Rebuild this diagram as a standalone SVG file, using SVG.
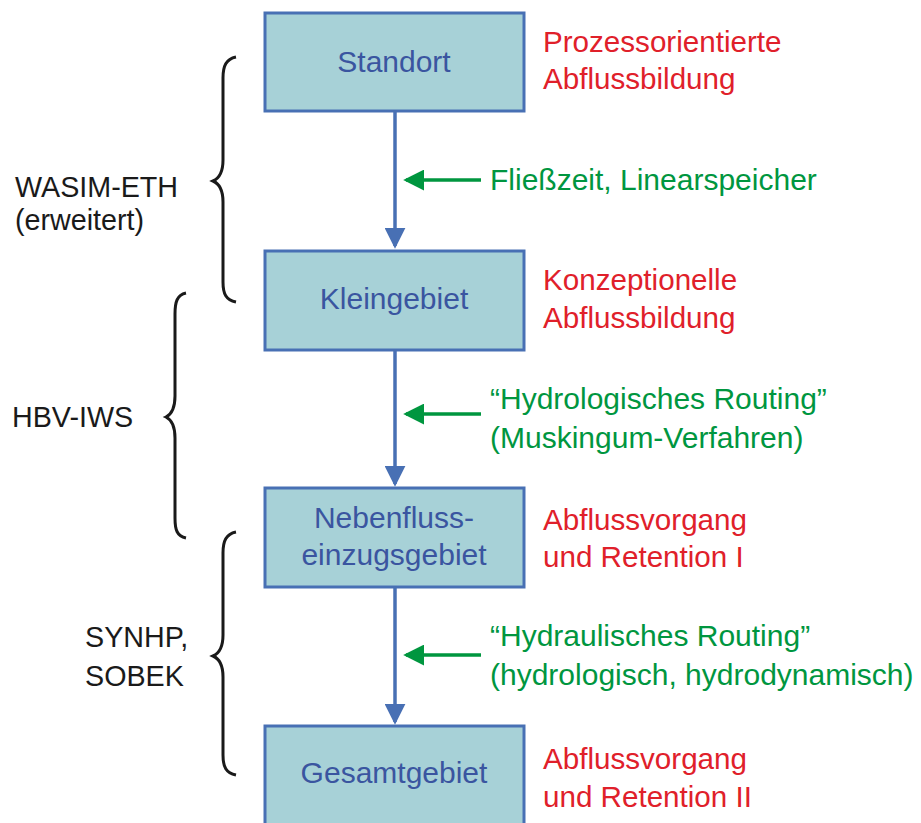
<svg xmlns="http://www.w3.org/2000/svg" width="921" height="823" viewBox="0 0 921 823">
<defs>
<style>
.box{fill:#a7d1d7;stroke:#4870b4;stroke-width:3}
.nt{font-family:"Liberation Sans",Arial,sans-serif;font-size:30px;fill:#3a55a0;text-anchor:middle}
.rt{font-family:"Liberation Sans",Arial,sans-serif;font-size:29.6px;fill:#e0202a}
.gt{font-family:"Liberation Sans",Arial,sans-serif;font-size:30px;fill:#00963f}
.bt{font-family:"Liberation Sans",Arial,sans-serif;font-size:28.7px;fill:#1a1a1a}
.vl{stroke:#4870b4;stroke-width:3.5;fill:none}
.gl{stroke:#00963f;stroke-width:3.5;fill:none}
.br{stroke:#1a1a1a;stroke-width:3;fill:none}
</style>
<marker id="ab" markerWidth="6" markerHeight="6" refX="5.2" refY="3" orient="auto" markerUnits="strokeWidth">
<path d="M0,0 L6,3 L0,6 Z" fill="#4870b4"/>
</marker>
<marker id="ag" markerWidth="6" markerHeight="6" refX="5.2" refY="3" orient="auto" markerUnits="strokeWidth">
<path d="M0,0 L6,3 L0,6 Z" fill="#00963f"/>
</marker>
</defs>
<rect width="921" height="823" fill="#ffffff"/>

<g id="connectors">
<line class="vl" x1="395" y1="112" x2="395" y2="246" marker-end="url(#ab)"/>
<line class="vl" x1="395" y1="350" x2="395" y2="484" marker-end="url(#ab)"/>
<line class="vl" x1="395" y1="588" x2="395" y2="722" marker-end="url(#ab)"/>
<line class="gl" x1="481" y1="180" x2="406" y2="180" marker-end="url(#ag)"/>
<line class="gl" x1="481" y1="414" x2="406" y2="414" marker-end="url(#ag)"/>
<line class="gl" x1="481" y1="655" x2="406" y2="655" marker-end="url(#ag)"/>
</g>

<g id="node-standort">
<rect class="box" x="265" y="13" width="259" height="98"/>
<text class="nt" x="394" y="72">Standort</text>
</g>
<g id="node-kleingebiet">
<rect class="box" x="265" y="251" width="259" height="99"/>
<text class="nt" x="394" y="309">Kleingebiet</text>
</g>
<g id="node-nebenfluss">
<rect class="box" x="265" y="488" width="259" height="99"/>
<text class="nt" x="394" y="528">Nebenfluss-</text>
<text class="nt" x="394" y="565">einzugsgebiet</text>
</g>
<g id="node-gesamtgebiet">
<rect class="box" x="265" y="726" width="259" height="99"/>
<text class="nt" x="394" y="783">Gesamtgebiet</text>
</g>

<g id="labels-right">
<text class="rt" x="543" y="52">Prozessorientierte</text>
<text class="rt" x="543" y="89">Abflussbildung</text>
<text class="gt" x="490" y="190">Fließzeit, Linearspeicher</text>
<text class="rt" x="543" y="290">Konzeptionelle</text>
<text class="rt" x="543" y="328">Abflussbildung</text>
<text class="gt" x="490" y="409">“Hydrologisches Routing”</text>
<text class="gt" x="490" y="448">(Muskingum-Verfahren)</text>
<text class="rt" x="543" y="530">Abflussvorgang</text>
<text class="rt" x="543" y="567">und Retention I</text>
<text class="gt" x="490" y="646">“Hydraulisches Routing”</text>
<text class="gt" x="490" y="685">(hydrologisch, hydrodynamisch)</text>
<text class="rt" x="543" y="769">Abflussvorgang</text>
<text class="rt" x="543" y="807">und Retention II</text>
</g>

<g id="brace-wasim">
<path class="br" d="M236,57 C226,59 223,66 223,78 L223,160 C223,172 220,178 213,181 C220,184 223,190 223,202 L223,282 C223,294 226,300 236,302"/>
<text class="bt" x="15" y="197">WASIM-ETH</text>
<text class="bt" x="15" y="230">(erweitert)</text>
</g>
<g id="brace-hbv">
<path class="br" d="M186,293 C177,295 175,302 175,314 L175,396 C175,408 172,414 166,417 C172,420 175,426 175,438 L175,518 C175,530 177,536 186,538"/>
<text class="bt" x="12" y="427">HBV-IWS</text>
</g>
<g id="brace-synhp">
<path class="br" d="M236,532 C226,534 223,541 223,553 L223,635 C223,647 220,653 213,656 C220,659 223,665 223,677 L223,755 C223,767 226,773 236,775"/>
<text class="bt" x="85" y="647">SYNHP,</text>
<text class="bt" x="85" y="686">SOBEK</text>
</g>
</svg>
